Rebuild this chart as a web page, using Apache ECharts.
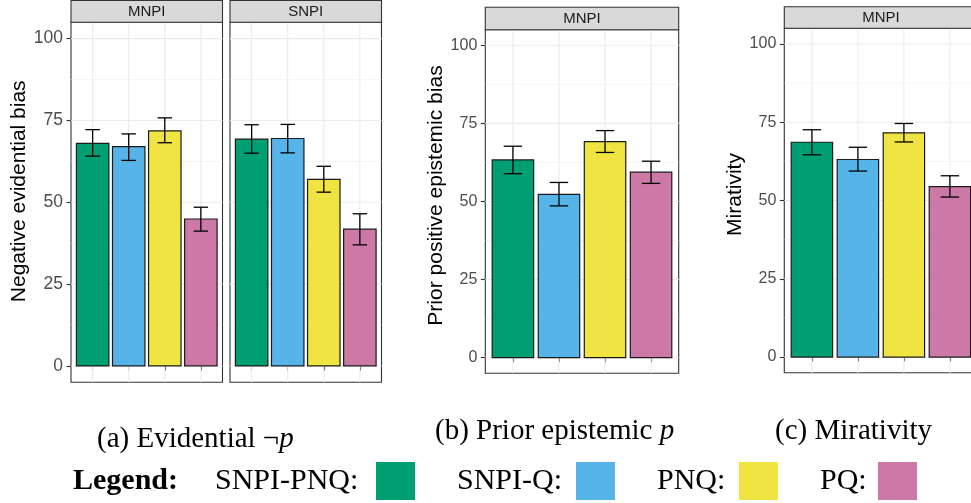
<!DOCTYPE html>
<html>
<head>
<meta charset="utf-8">
<script src="https://cdn.jsdelivr.net/npm/echarts@6/dist/echarts.min.js"></script>
<style>
  html, body { margin: 0; padding: 0; background: #fff; }
  #chart { width: 971px; height: 503px; }
</style>
</head>
<body>
<div id="chart"></div>
<script>
// categories and colours (Okabe-Ito)
const categories = ['SNPI-PNQ', 'SNPI-Q', 'PNQ', 'PQ']
const colors = ['#009E73', '#56B4E9', '#F0E442', '#CC79A7']

// (a) Evidential, MNPI facet
const evidMnpiMean = [68.0, 67.0, 71.8, 44.9]
const evidMnpiLow = [64.1, 62.8, 68.2, 41.2]
const evidMnpiHigh = [72.2, 70.9, 75.8, 48.5]
// (a) Evidential, SNPI facet
const evidSnpiMean = [69.3, 69.5, 57.0, 41.8]
const evidSnpiLow = [65.0, 65.1, 53.1, 37.0]
const evidSnpiHigh = [73.7, 73.8, 61.0, 46.5]
// (b) Prior epistemic
const priorMean = [63.3, 52.3, 69.2, 59.4]
const priorLow = [58.9, 48.6, 65.7, 55.8]
const priorHigh = [67.7, 56.1, 72.7, 62.9]
// (c) Mirativity
const mirMean = [68.6, 63.1, 71.6, 54.4]
const mirLow = [64.6, 59.4, 68.7, 51.1]
const mirHigh = [72.6, 67.0, 74.6, 57.9]

const yTicks = [0, 25, 50, 75, 100]
const yMinor = [12.5, 37.5, 62.5, 87.5]
const xTicks = [1, 2, 3, 4]

const SANS = '"Liberation Sans", Arial, Helvetica, sans-serif'
const SERIF = '"Liberation Serif", "Times New Roman", serif'

// one entry per facet panel
const panels = [
  { left: 71, top: 22.3, width: 151.5, height: 360, strip: 'MNPI', stripTop: 0.5,
    title: 'Negative evidential bias', labels: true, tickFont: 17.5, nameGap: 41, nameShift: 22,
    mean: evidMnpiMean, low: evidMnpiLow, high: evidMnpiHigh },
  { left: 230, top: 22.3, width: 151.5, height: 360, strip: 'SNPI', stripTop: 0.5,
    title: '', labels: false, tickFont: 17.5, nameGap: 41, nameShift: 0,
    mean: evidSnpiMean, low: evidSnpiLow, high: evidSnpiHigh },
  { left: 485.3, top: 29.7, width: 193.4, height: 343.6, strip: 'MNPI', stripTop: 7.3,
    title: 'Prior positive epistemic bias', labels: true, tickFont: 16, nameGap: 38, nameShift: 12,
    mean: priorMean, low: priorLow, high: priorHigh },
  { left: 784.3, top: 28.3, width: 193.2, height: 344.4, strip: 'MNPI', stripTop: 6.7,
    title: 'Mirativity', labels: true, tickFont: 16, nameGap: 39, nameShift: 12,
    mean: mirMean, low: mirLow, high: mirHigh }
]

function renderGridLine(params, api) {
  const cs = params.coordSys
  const dir = api.value(0)
  const v = api.value(1)
  const w = api.value(2)
  let shape
  if (dir === 0) {
    const y = api.coord([1, v])[1]
    shape = { x1: cs.x, y1: y, x2: cs.x + cs.width, y2: y }
  } else {
    const x = api.coord([v, 0])[0]
    shape = { x1: x, y1: cs.y, x2: x, y2: cs.y + cs.height }
  }
  return { type: 'line', shape, style: { stroke: '#EBEBEB', lineWidth: w } }
}

function renderBar(params, api) {
  const x = api.value(0)
  const mean = api.value(1)
  const lo = api.value(2)
  const hi = api.value(3)
  const tl = api.coord([x - 0.45, mean])
  const br = api.coord([x + 0.45, 0])
  const top = api.coord([x, hi])
  const bot = api.coord([x, lo])
  const capL = api.coord([x - 0.2, 0])[0]
  const capR = api.coord([x + 0.2, 0])[0]
  const err = { stroke: '#000', lineWidth: 1.3 }
  return {
    type: 'group',
    children: [
      { type: 'rect', shape: { x: tl[0], y: tl[1], width: br[0] - tl[0], height: br[1] - tl[1] },
        style: { fill: colors[x - 1], stroke: '#1A1A1A', lineWidth: 1.2 } },
      { type: 'line', shape: { x1: top[0], y1: top[1], x2: bot[0], y2: bot[1] }, style: err },
      { type: 'line', shape: { x1: capL, y1: top[1], x2: capR, y2: top[1] }, style: err },
      { type: 'line', shape: { x1: capL, y1: bot[1], x2: capR, y2: bot[1] }, style: err }
    ]
  }
}

const gridLineData = []
yTicks.forEach(v => gridLineData.push([0, v, 1.1]))
yMinor.forEach(v => gridLineData.push([0, v, 0.55]))
xTicks.forEach(v => gridLineData.push([1, v, 1.1]))

const grids = []
const xAxes = []
const yAxes = []
const series = []
const graphics = []

panels.forEach((p, i) => {
  grids.push({
    left: p.left, top: p.top, width: p.width, height: p.height,
    show: true, backgroundColor: '#fff', borderColor: '#333333', borderWidth: 1.1,
    containLabel: false, outerBoundsMode: 'none'
  })
  xAxes.push({
    type: 'value', gridIndex: i, min: 0.4, max: 4.6,
    axisLine: { show: false }, splitLine: { show: false },
    axisLabel: { show: false },
    axisTick: { show: true, customValues: xTicks, length: 4.5, lineStyle: { color: '#333333', width: 1.1 } }
  })
  yAxes.push({
    type: 'value', gridIndex: i, min: -5, max: 105,
    name: p.title, nameLocation: 'middle', nameRotate: 90, nameGap: p.nameGap,
    nameTextStyle: { fontFamily: SANS, fontSize: 21, color: '#000', padding: [0, 0, 0, p.nameShift] },
    axisLine: { show: false }, splitLine: { show: false },
    axisLabel: { show: p.labels, customValues: yTicks, margin: 8, fontFamily: SANS, fontSize: p.tickFont, color: '#4D4D4D' },
    axisTick: { show: p.labels, customValues: yTicks, length: 4.5, lineStyle: { color: '#333333', width: 1.1 } }
  })
  series.push({
    type: 'custom', xAxisIndex: i, yAxisIndex: i, z: 1, silent: true,
    renderItem: renderGridLine, data: gridLineData
  })
  series.push({
    type: 'custom', xAxisIndex: i, yAxisIndex: i, z: 2,
    encode: { x: 0, y: 1 },
    renderItem: renderBar,
    data: categories.map((c, k) => ({ name: c, value: [k + 1, p.mean[k], p.low[k], p.high[k]] }))
  })
  // facet strip
  graphics.push({
    type: 'rect', z: 10,
    shape: { x: p.left, y: p.stripTop, width: p.width, height: p.top - p.stripTop },
    style: { fill: '#D9D9D9', stroke: '#333333', lineWidth: 1.1 }
  })
  graphics.push({
    type: 'text', z: 11,
    x: p.left + p.width / 2, y: (p.stripTop + p.top) / 2,
    style: { text: p.strip, fill: '#1A1A1A', font: '15px ' + SANS, align: 'center', verticalAlign: 'middle' }
  })
})

// sub-figure captions
const captions = [
  { x: 97, y: 439, text: '(a) Evidential \u00ac{i|p}' },
  { x: 435, y: 431, text: '(b) Prior epistemic {i|p}' },
  { x: 775, y: 431, text: '(c) Mirativity' }
]
captions.forEach(c => {
  graphics.push({
    type: 'text', x: c.x, y: c.y,
    style: {
      text: c.text, fill: '#000', fontFamily: SERIF, fontSize: 29, verticalAlign: 'middle',
      rich: { i: { fontFamily: SERIF, fontSize: 29, fontStyle: 'italic', fill: '#000' } }
    }
  })
})

// legend row
const legendY = 481
graphics.push({
  type: 'text', x: 73, y: legendY,
  style: { text: 'Legend:', fill: '#000', font: 'bold 30px ' + SERIF, verticalAlign: 'middle' }
})
const legendText = ['SNPI-PNQ:', 'SNPI-Q:', 'PNQ:', 'PQ:']
const legendTextX = [215, 457, 657, 820]
const legendSwatchX = [376, 576, 739, 878]
legendText.forEach((t, k) => {
  graphics.push({
    type: 'text', x: legendTextX[k], y: legendY,
    style: { text: t, fill: '#000', font: '30px ' + SERIF, verticalAlign: 'middle' }
  })
  graphics.push({
    type: 'rect', shape: { x: legendSwatchX[k], y: 462, width: 39, height: 38 },
    style: { fill: colors[k] }
  })
})

const chart = echarts.init(document.getElementById('chart'), null, { renderer: 'canvas' })
chart.setOption({
  animation: false,
  backgroundColor: '#fff',
  grid: grids,
  xAxis: xAxes,
  yAxis: yAxes,
  series: series,
  graphic: graphics
})
window.addEventListener('resize', () => chart.resize())
</script>
</body>
</html>
